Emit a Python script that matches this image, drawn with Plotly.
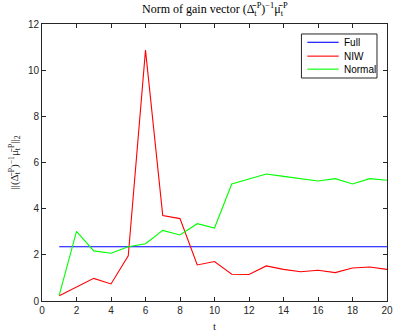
import plotly.graph_objects as go

t = list(range(1, 21))
full = [2.35] * 20
niw = [0.23, 0.60, 0.98, 0.74, 1.96, 10.87, 3.70, 3.57, 1.56, 1.71,
       1.16, 1.15, 1.52, 1.37, 1.27, 1.33, 1.23, 1.43, 1.47, 1.37]
normal = [0.25, 3.02, 2.17, 2.07, 2.35, 2.48, 3.06, 2.86, 3.35, 3.16,
          5.07, 5.30, 5.50, 5.40, 5.30, 5.20, 5.30, 5.07, 5.30, 5.23]
xticks = list(range(0, 21, 2))
yticks = list(range(0, 13, 2))
names = ["Full", "NIW", "Normal"]
colors = ["#0000FF", "#FF0000", "#00FF00"]

fig = go.Figure()
for name, ys, c in zip(names, [full, niw, normal], colors):
    fig.add_trace(go.Scatter(x=t, y=ys, mode="lines", name=name,
                             line=dict(color=c, width=1.1), showlegend=False))

axis_common = dict(showgrid=False, zeroline=False, showline=True, mirror="ticks",
                   linecolor="#262626", linewidth=1, ticks="inside", ticklen=4,
                   tickcolor="#262626",
                   tickfont=dict(family="Liberation Sans", size=10, color="#262626"))

# custom compact legend (MATLAB style)
shapes = [dict(type="rect", xref="paper", yref="paper", x0=0.752, x1=0.971,
               y0=0.805, y1=0.964, line=dict(color="#262626", width=1),
               fillcolor="white", layer="above")]
annotations = []
rows = [0.934, 0.884, 0.837]
for name, c, yy in zip(names, colors, rows):
    shapes.append(dict(type="line", xref="paper", yref="paper", x0=0.769, x1=0.860,
                       y0=yy, y1=yy, line=dict(color=c, width=1.1), layer="above"))
    annotations.append(dict(text=name, xref="paper", yref="paper", x=0.870, y=yy,
                            xanchor="left", yanchor="middle", showarrow=False,
                            font=dict(family="Liberation Sans", size=10, color="black")))

annotations += [
    dict(text="Norm of gain vector (Δ̄<sub>t</sub><sup>P</sup>)<sup>−1</sup>μ̄<sub>t</sub><sup>P</sup>",
         xref="paper", yref="paper", x=0.5, y=1, yshift=4,
         xanchor="center", yanchor="bottom", showarrow=False,
         font=dict(family="Liberation Serif", size=12, color="black")),
    dict(text="t", xref="paper", yref="paper", x=0.5, y=0, yshift=-17,
         xanchor="center", yanchor="top", showarrow=False,
         font=dict(family="Liberation Serif", size=11, color="#262626")),
    dict(text="||(Δ̄<sub>t</sub><sup>P</sup>)<sup>−1</sup>μ̄<sub>t</sub><sup>P</sup>||<sub>2</sub>",
         xref="paper", yref="paper", x=0, y=0.5, xshift=-18,
         xanchor="right", yanchor="middle", showarrow=False, textangle=-90,
         font=dict(family="Liberation Serif", size=11, color="#262626")),
]

fig.update_layout(
    width=399, height=331,
    margin=dict(l=42, r=6, t=24, b=30),
    paper_bgcolor="white", plot_bgcolor="white",
    showlegend=False,
    xaxis=dict(range=[0, 20], tickvals=xticks, **axis_common),
    yaxis=dict(range=[0, 12], tickvals=yticks, **axis_common),
    shapes=shapes,
    annotations=annotations,
)

fig.write_html("out.html")
